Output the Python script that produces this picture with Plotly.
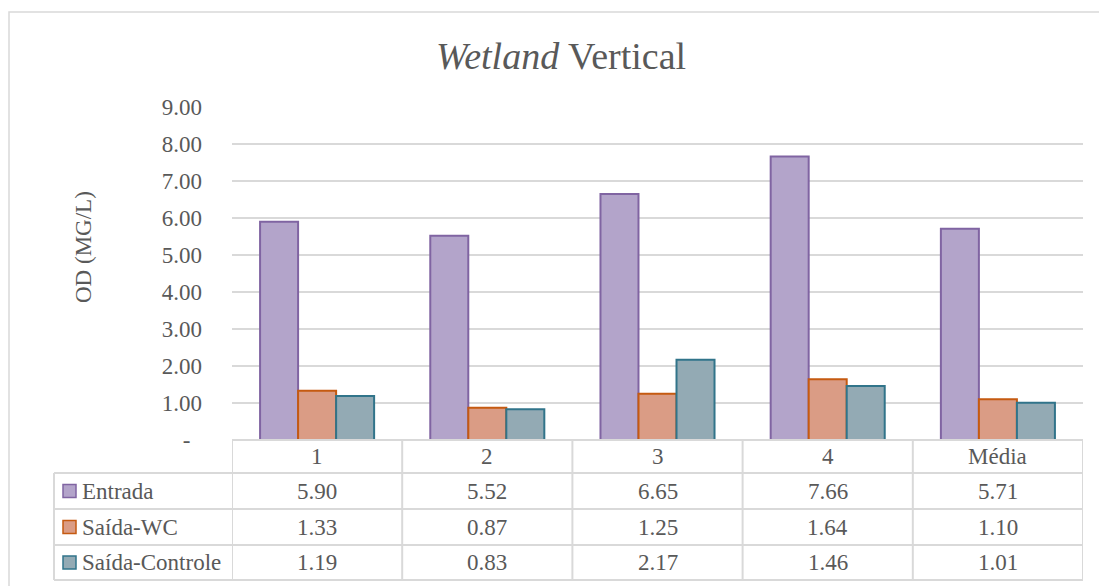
import plotly.graph_objects as go

# ---- data ----
categories = ["1", "2", "3", "4", "Média"]
series_names = ["Entrada", "Saída-WC", "Saída-Controle"]
entrada = [5.90, 5.52, 6.65, 7.66, 5.71]
saida_wc = [1.33, 0.87, 1.25, 1.64, 1.10]
saida_controle = [1.19, 0.83, 2.17, 1.46, 1.01]
y_ticks = [0, 1, 2, 3, 4, 5, 6, 7, 8, 9]
y_tick_labels = ["-&nbsp;&nbsp;", "1.00", "2.00", "3.00", "4.00", "5.00",
                 "6.00", "7.00", "8.00", "9.00"]

# ---- styling ----
FONT = "'Liberation Serif', 'Times New Roman', Times, serif"
TXT = "#595959"
GRID = "#d9d9d9"
fills = ["#b3a4ca", "#da9c85", "#93aab4"]
edges = ["#8064a2", "#c55a11", "#31748a"]

W, H = 1099, 586
L, R, T, B = 232, 1083, 107, 440
pw, ph = R - L, B - T


def px(x):
    return (x - L) / pw


def py(y):
    return (B - y) / ph


values = [entrada, saida_wc, saida_controle]

fig = go.Figure()
for name, vals, fc, ec in zip(series_names, values, fills, edges):
    fig.add_trace(go.Bar(
        x=categories, y=vals, name=name,
        marker=dict(color=fc, line=dict(color=ec, width=2)),
        hoverinfo="x+y+name",
    ))

shapes = []
annotations = []

# outer chart frame
shapes.append(dict(type="rect", xref="paper", yref="paper",
                   x0=px(9), x1=px(1104), y0=py(12), y1=py(600),
                   line=dict(color=GRID, width=1.5), layer="below"))

# data table grid
row_lines = [473, 509, 545, 580]
shapes.append(dict(type="line", xref="paper", yref="paper",
                   x0=0, x1=1, y0=py(440), y1=py(440),
                   line=dict(color=GRID, width=2)))
for yy in row_lines:
    shapes.append(dict(type="line", xref="paper", yref="paper",
                       x0=px(54), x1=1, y0=py(yy), y1=py(yy),
                       line=dict(color=GRID, width=2)))
for i in range(len(categories) + 1):
    shapes.append(dict(type="line", xref="x", yref="paper",
                       x0=i - 0.5, x1=i - 0.5, y0=py(440), y1=py(580),
                       line=dict(color=GRID, width=2)))
shapes.append(dict(type="line", xref="paper", yref="paper",
                   x0=px(54), x1=px(54), y0=py(473), y1=py(580),
                   line=dict(color=GRID, width=2)))

# header row with category names
for i, c in enumerate(categories):
    annotations.append(dict(x=i, y=py(456.5), xref="x", yref="paper",
                            text=c, showarrow=False,
                            font=dict(family=FONT, size=23, color=TXT),
                            xanchor="center", yanchor="middle"))

# series rows: legend key, name and values
row_centers = [491, 527, 562.5]
for name, vals, fc, ec, rc in zip(series_names, values, fills, edges, row_centers):
    shapes.append(dict(type="rect", xref="paper", yref="paper",
                       x0=px(63), x1=px(76), y0=py(rc - 6.5), y1=py(rc + 6.5),
                       fillcolor=fc, line=dict(color=ec, width=1.5)))
    annotations.append(dict(x=px(80), y=py(rc), xref="paper", yref="paper",
                            text=name, showarrow=False,
                            font=dict(family=FONT, size=23, color=TXT),
                            xanchor="left", yanchor="middle"))
    for i, v in enumerate(vals):
        annotations.append(dict(x=i, y=py(rc), xref="x", yref="paper",
                                text=f"{v:.2f}", showarrow=False,
                                font=dict(family=FONT, size=23, color=TXT),
                                xanchor="center", yanchor="middle"))

# chart title
annotations.append(dict(x=px(561), y=py(56), xref="paper", yref="paper",
                        text="<i>Wetland</i> Vertical", showarrow=False,
                        font=dict(family=FONT, size=38, color=TXT),
                        xanchor="center", yanchor="middle"))

# value axis title
annotations.append(dict(x=px(83), y=py(247), xref="paper", yref="paper",
                        text="OD (MG/L)", showarrow=False, textangle=-90,
                        font=dict(family=FONT, size=23, color=TXT),
                        xanchor="center", yanchor="middle"))

fig.update_layout(
    width=W, height=H, autosize=False,
    margin=dict(l=L, r=W - R, t=T, b=H - B, pad=0),
    paper_bgcolor="white", plot_bgcolor="white",
    barmode="group", bargap=0.33, bargroupgap=0,
    showlegend=False,
    font=dict(family=FONT, color=TXT),
    shapes=shapes, annotations=annotations,
    xaxis=dict(type="category", range=[-0.5, len(categories) - 0.5],
               showticklabels=False, showgrid=False, showline=False,
               zeroline=False, ticks=""),
    yaxis=dict(range=[0, 9], tickvals=y_ticks, ticktext=y_tick_labels,
               showgrid=True, gridcolor=GRID, gridwidth=2,
               zeroline=False, showline=False, ticks="",
               ticklabelstandoff=29,
               tickfont=dict(family=FONT, size=23, color=TXT)),
)

fig.write_html("out.html")
